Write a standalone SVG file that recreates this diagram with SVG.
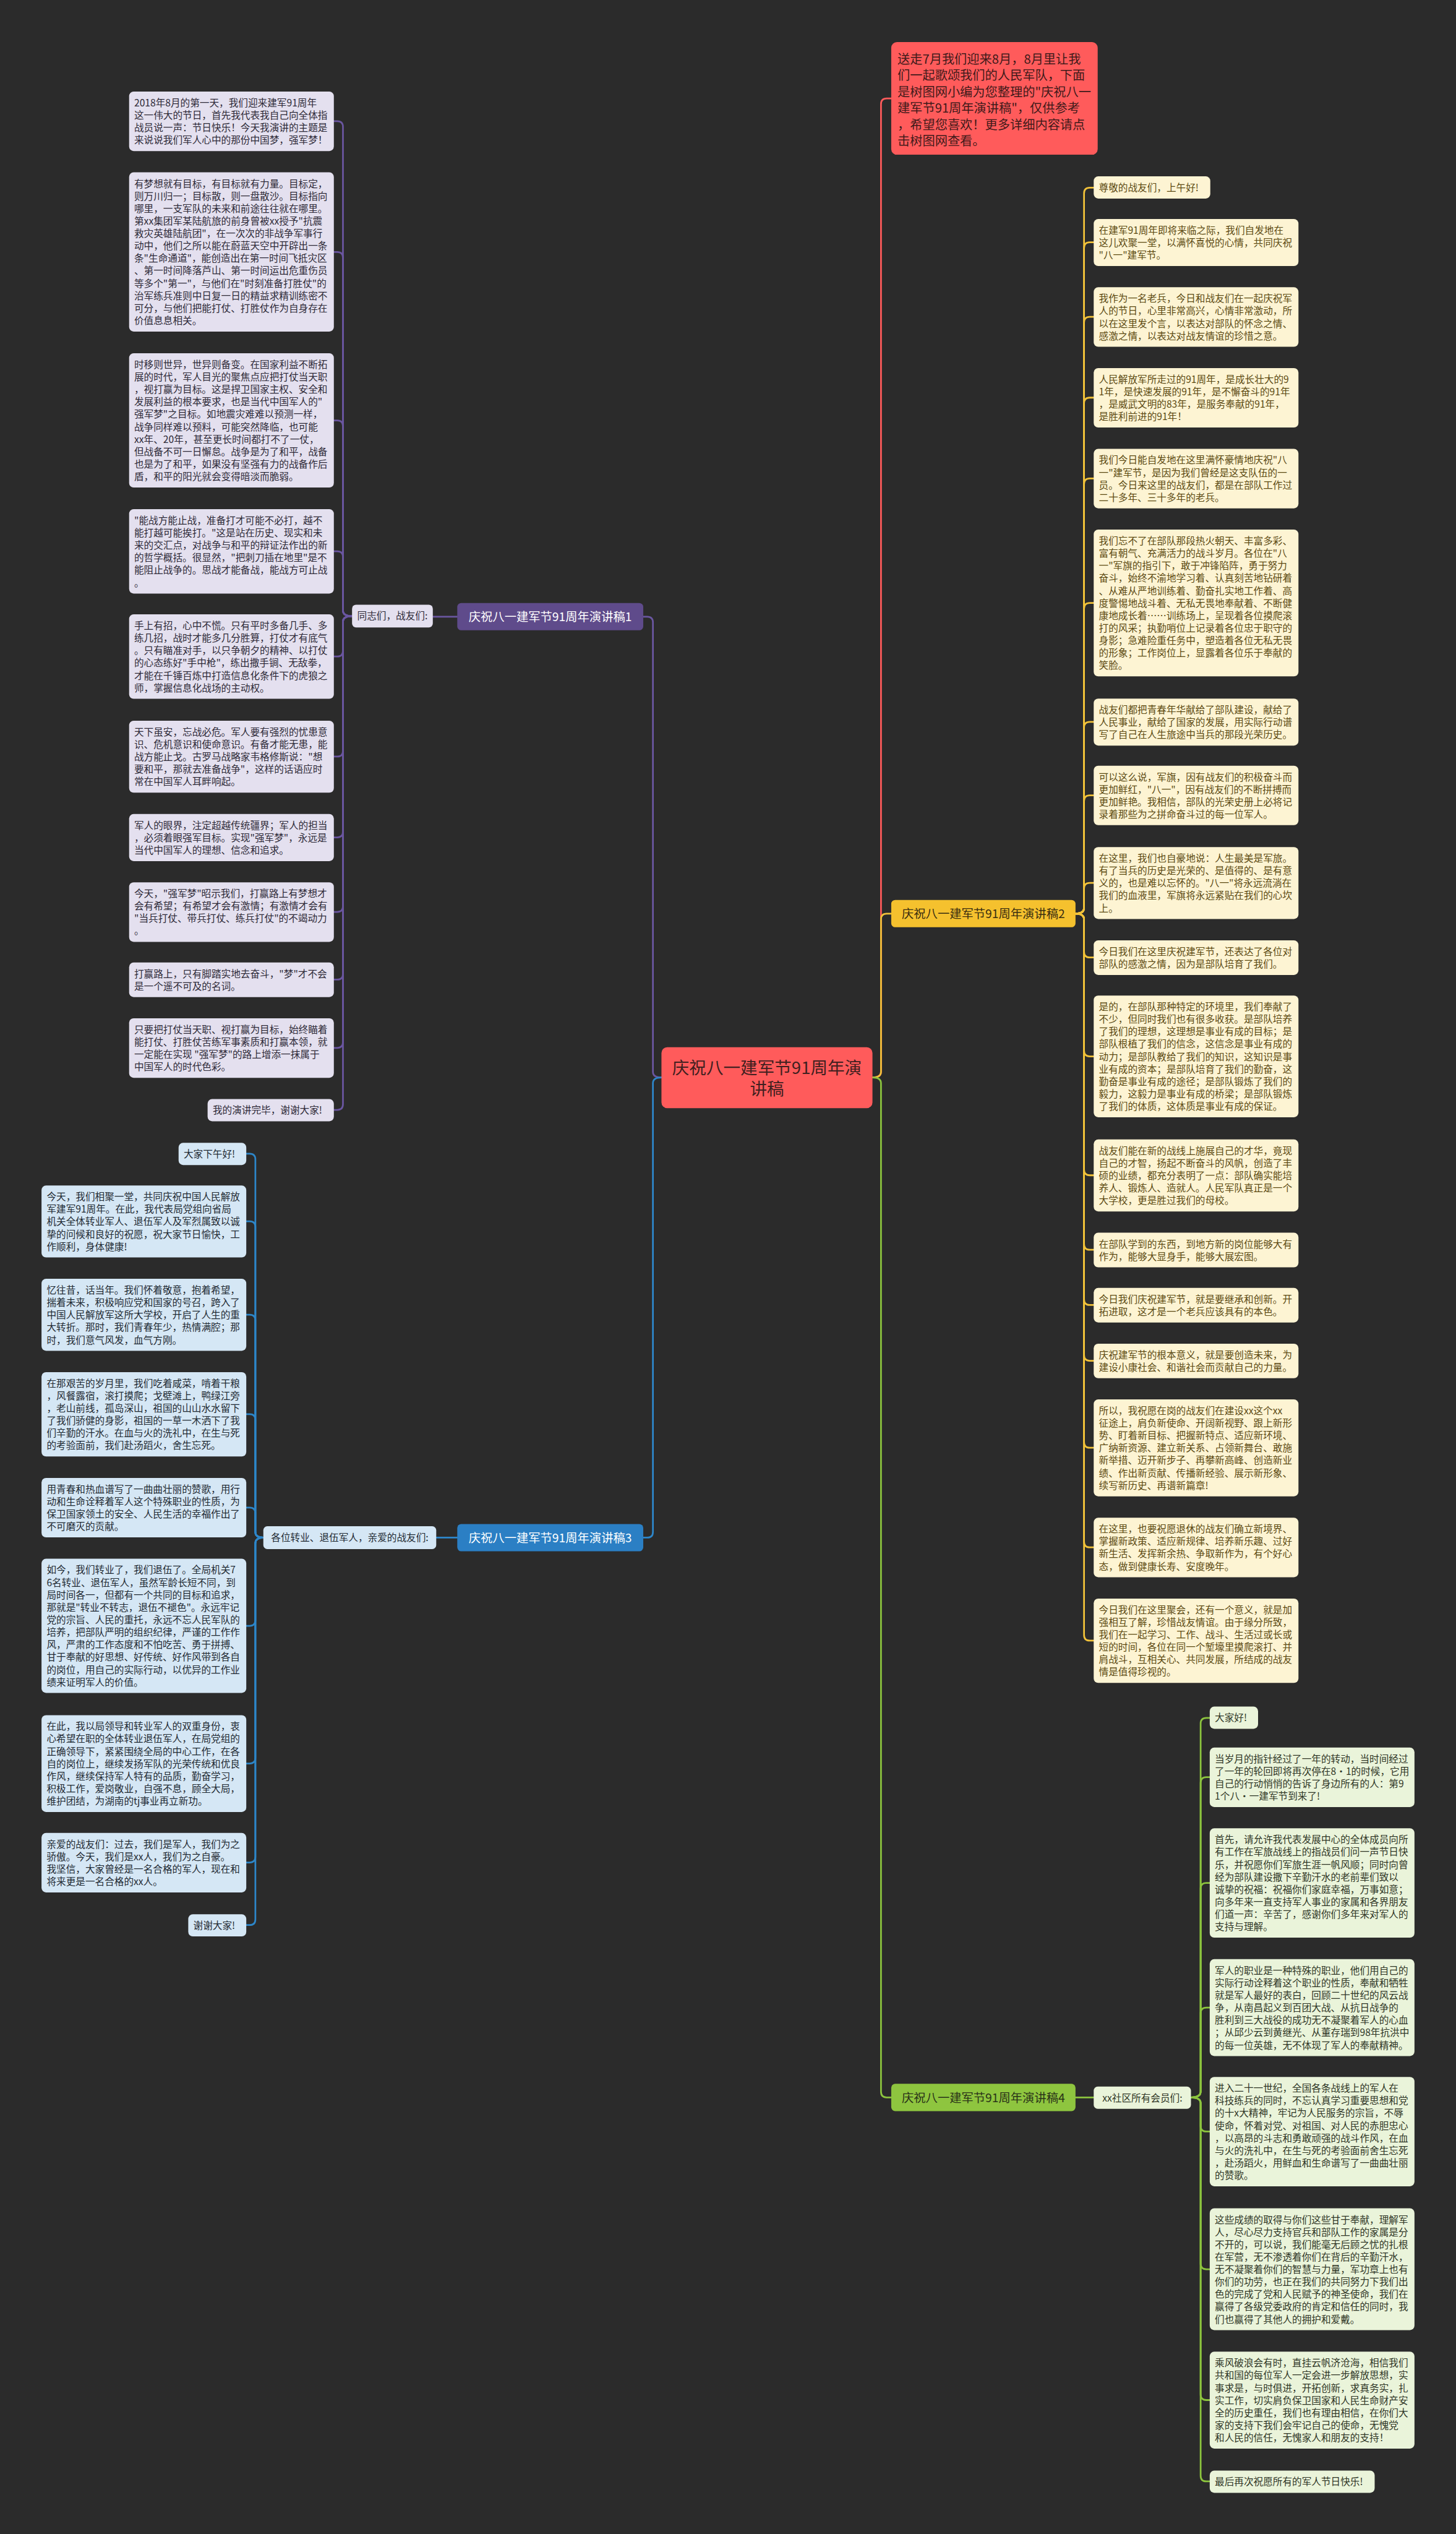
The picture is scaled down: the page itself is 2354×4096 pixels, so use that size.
<svg xmlns="http://www.w3.org/2000/svg" width="2354" height="4096" viewBox="0 0 2354 4096">
<defs>
<style>
.t{font-family:"Noto Sans CJK SC","Noto Sans CJK JP",sans-serif;font-size:17px}
.tp{fill:#2e2a38}.tb{fill:#1f2a33}.ty{fill:#5c4a12}.tg{fill:#2f3626}
.lp{fill:#e4e0ef}.lb{fill:#d5e7f5}.ly{fill:#fdf4d3}.lg{fill:#eaf4da}
.c{fill:none;stroke-width:3;stroke-linecap:round;stroke-linejoin:round}
.cp{stroke:#6a56a0}.cb{stroke:#2d86c9}.cy{stroke:#f2c23a}.cg{stroke:#8cc43e}.cr{stroke:#ff5b5b}
.lab{font-family:"Noto Sans CJK SC","Noto Sans CJK JP",sans-serif;font-size:21px;text-anchor:middle}
</style>
</defs>
<rect x="0" y="0" width="2354" height="4096" fill="#2b2b2b"/>
<g transform="scale(0.919531)">
<g id="connectors">
<path class="c cr" d="M1534 1894 Q1549 1894 1549 1884 V183 Q1549 173 1559 173 H1567"/>
<path class="c cy" d="M1534 1894 Q1549 1894 1549 1884 V1616 Q1549 1606 1559 1606 H1567"/>
<path class="c cg" d="M1534 1894 Q1549 1894 1549 1904 V3677 Q1549 3687 1559 3687 H1567"/>
<path class="c cp" d="M1163 1894 Q1148 1894 1148 1884 V1094 Q1148 1084 1138 1084 H1131"/>
<path class="c cb" d="M1163 1894 Q1148 1894 1148 1904 V2693 Q1148 2703 1138 2703 H1131"/>
<path class="c cp" d="M804 1084 H761"/>
<path class="c cb" d="M804 2703 H767"/>
<path class="c cg" d="M1891 3687 H1923"/>
<!-- branch 1 -->
<path class="c cp" d="M619 1083 Q603 1083 603 1073 V223 Q603 213 593 213 H587"/>
<path class="c cp" d="M619 1083 Q603 1083 603 1073 V453 Q603 443 593 443 H587"/>
<path class="c cp" d="M619 1083 Q603 1083 603 1073 V749 Q603 739 593 739 H587"/>
<path class="c cp" d="M619 1083 Q603 1083 603 1073 V979 Q603 969 593 969 H587"/>
<path class="c cp" d="M619 1083 Q603 1083 603 1093 V1144 Q603 1154 593 1154 H587"/>
<path class="c cp" d="M619 1083 Q603 1083 603 1093 V1320 Q603 1330 593 1330 H587"/>
<path class="c cp" d="M619 1083 Q603 1083 603 1093 V1462 Q603 1472 593 1472 H587"/>
<path class="c cp" d="M619 1083 Q603 1083 603 1093 V1593 Q603 1603 593 1603 H587"/>
<path class="c cp" d="M619 1083 Q603 1083 603 1093 V1712 Q603 1722 593 1722 H587"/>
<path class="c cp" d="M619 1083 Q603 1083 603 1093 V1832 Q603 1842 593 1842 H587"/>
<path class="c cp" d="M619 1083 Q603 1083 603 1093 V1941 Q603 1951 593 1951 H587"/>
<!-- branch 3 -->
<path class="c cb" d="M463 2703 Q449 2703 449 2693 V2038 Q449 2028 439 2028 H433"/>
<path class="c cb" d="M463 2703 Q449 2703 449 2693 V2157 Q449 2147 439 2147 H433"/>
<path class="c cb" d="M463 2703 Q449 2703 449 2693 V2321 Q449 2311 439 2311 H433"/>
<path class="c cb" d="M463 2703 Q449 2703 449 2693 V2496 Q449 2486 439 2486 H433"/>
<path class="c cb" d="M463 2703 Q449 2703 449 2693 V2660 Q449 2650 439 2650 H433"/>
<path class="c cb" d="M463 2703 Q449 2703 449 2713 V2848 Q449 2858 439 2858 H433"/>
<path class="c cb" d="M463 2703 Q449 2703 449 2713 V3090 Q449 3100 439 3100 H433"/>
<path class="c cb" d="M463 2703 Q449 2703 449 2713 V3264 Q449 3274 439 3274 H433"/>
<path class="c cb" d="M463 2703 Q449 2703 449 2713 V3374 Q449 3384 439 3384 H433"/>
<!-- branch 2 -->
<path class="c cy" d="M1891 1606 Q1906 1606 1906 1596 V340 Q1906 330 1916 330 H1923"/>
<path class="c cy" d="M1891 1606 Q1906 1606 1906 1596 V436 Q1906 426 1916 426 H1923"/>
<path class="c cy" d="M1891 1606 Q1906 1606 1906 1596 V567 Q1906 557 1916 557 H1923"/>
<path class="c cy" d="M1891 1606 Q1906 1606 1906 1596 V709 Q1906 699 1916 699 H1923"/>
<path class="c cy" d="M1891 1606 Q1906 1606 1906 1596 V851 Q1906 841 1916 841 H1923"/>
<path class="c cy" d="M1891 1606 Q1906 1606 1906 1596 V1070 Q1906 1060 1916 1060 H1923"/>
<path class="c cy" d="M1891 1606 Q1906 1606 1906 1596 V1279 Q1906 1269 1916 1269 H1923"/>
<path class="c cy" d="M1891 1606 Q1906 1606 1906 1596 V1408 Q1906 1398 1916 1398 H1923"/>
<path class="c cy" d="M1891 1606 Q1906 1606 1906 1596 V1562 Q1906 1552 1916 1552 H1923"/>
<path class="c cy" d="M1891 1606 Q1906 1606 1906 1616 V1673 Q1906 1683 1916 1683 H1923"/>
<path class="c cy" d="M1891 1606 Q1906 1606 1906 1616 V1847 Q1906 1857 1916 1857 H1923"/>
<path class="c cy" d="M1891 1606 Q1906 1606 1906 1616 V2056 Q1906 2066 1916 2066 H1923"/>
<path class="c cy" d="M1891 1606 Q1906 1606 1906 1616 V2187 Q1906 2197 1916 2197 H1923"/>
<path class="c cy" d="M1891 1606 Q1906 1606 1906 1616 V2284 Q1906 2294 1916 2294 H1923"/>
<path class="c cy" d="M1891 1606 Q1906 1606 1906 1616 V2382 Q1906 2392 1916 2392 H1923"/>
<path class="c cy" d="M1891 1606 Q1906 1606 1906 1616 V2535 Q1906 2545 1916 2545 H1923"/>
<path class="c cy" d="M1891 1606 Q1906 1606 1906 1616 V2710 Q1906 2720 1916 2720 H1923"/>
<path class="c cy" d="M1891 1606 Q1906 1606 1906 1616 V2874 Q1906 2884 1916 2884 H1923"/>
<!-- branch 4 -->
<path class="c cg" d="M2094 3687 Q2111 3687 2111 3677 V3030 Q2111 3020 2121 3020 H2127"/>
<path class="c cg" d="M2094 3687 Q2111 3687 2111 3677 V3134 Q2111 3124 2121 3124 H2127"/>
<path class="c cg" d="M2094 3687 Q2111 3687 2111 3677 V3320 Q2111 3310 2121 3310 H2127"/>
<path class="c cg" d="M2094 3687 Q2111 3687 2111 3677 V3539 Q2111 3529 2121 3529 H2127"/>
<path class="c cg" d="M2094 3687 Q2111 3687 2111 3697 V3737 Q2111 3747 2121 3747 H2127"/>
<path class="c cg" d="M2094 3687 Q2111 3687 2111 3697 V3979 Q2111 3989 2121 3989 H2127"/>
<path class="c cg" d="M2094 3687 Q2111 3687 2111 3697 V4209 Q2111 4219 2121 4219 H2127"/>
<path class="c cg" d="M2094 3687 Q2111 3687 2111 3697 V4352 Q2111 4362 2121 4362 H2127"/>
</g>

<g id="center">
<rect x="1163" y="1841" width="371" height="107" rx="10" fill="#ff5b5b"/>
<text class="lab" x="1348.5" y="1888" style="font-size:30px" fill="#3f2020"><tspan x="1348.5">庆祝八一建军节91周年演</tspan><tspan x="1348.5" dy="36.5">讲稿</tspan></text>
</g>

<g id="intro">
<rect x="1567" y="74" width="363" height="198" rx="10" fill="#ff5b5b"/>
<text class="t" style="font-size:22px" fill="#3f1a1a" x="1578" y="112"><tspan x="1578">送走7月我们迎来8月，8月里让我</tspan><tspan x="1578" dy="28.7">们一起歌颂我们的人民军队，下面</tspan><tspan x="1578" dy="28.7">是树图网小编为您整理的"庆祝八一</tspan><tspan x="1578" dy="28.7">建军节91周年演讲稿"，仅供参考</tspan><tspan x="1578" dy="28.7">，希望您喜欢！更多详细内容请点</tspan><tspan x="1578" dy="28.7">击树图网查看。</tspan></text>
</g>

<g id="branch1">
<rect x="804" y="1060" width="327" height="48" rx="7" fill="#5f4b8b"/>
<text class="lab" x="967.5" y="1092" fill="#ffffff">庆祝八一建军节91周年演讲稿1</text>
</g>
<g id="branch1-sub">
<rect x="619" y="1063" width="142" height="40" rx="7" class="lp"/>
<text class="t tp" x="690" y="1089" text-anchor="middle">同志们，战友们:</text>
</g>
<g id="b1-leaf1"><rect x="227" y="161" width="360" height="104.6" rx="8" class="lp"/>
<text class="t tp" x="236" y="187"><tspan x="236">2018年8月的第一天，我们迎来建军91周年</tspan><tspan x="236" dy="21.9">这一伟大的节日，首先我代表我自己向全体指</tspan><tspan x="236" dy="21.9">战员说一声：节日快乐！今天我演讲的主题是</tspan><tspan x="236" dy="21.9">来说说我们军人心中的那份中国梦，强军梦！</tspan></text></g>
<g id="b1-leaf2"><rect x="227" y="303" width="360" height="279.8" rx="8" class="lp"/>
<text class="t tp" x="236" y="329"><tspan x="236">有梦想就有目标，有目标就有力量。目标定，</tspan><tspan x="236" dy="21.9">则万川归一；目标散，则一盘散沙。目标指向</tspan><tspan x="236" dy="21.9">哪里，一支军队的未来和前途往往就在哪里。</tspan><tspan x="236" dy="21.9">第xx集团军某陆航旅的前身曾被xx授予"抗震</tspan><tspan x="236" dy="21.9">救灾英雄陆航团"，在一次次的非战争军事行</tspan><tspan x="236" dy="21.9">动中，他们之所以能在蔚蓝天空中开辟出一条</tspan><tspan x="236" dy="21.9">条"生命通道"，能创造出在第一时间飞抵灾区</tspan><tspan x="236" dy="21.9">、第一时间降落芦山、第一时间运出危重伤员</tspan><tspan x="236" dy="21.9">等多个"第一"，与他们在"时刻准备打胜仗"的</tspan><tspan x="236" dy="21.9">治军练兵准则中日复一日的精益求精训练密不</tspan><tspan x="236" dy="21.9">可分，与他们把能打仗、打胜仗作为自身存在</tspan><tspan x="236" dy="21.9">价值息息相关。</tspan></text></g>
<g id="b1-leaf3"><rect x="227" y="621" width="360" height="236" rx="8" class="lp"/>
<text class="t tp" x="236" y="647"><tspan x="236">时移则世异，世异则备变。在国家利益不断拓</tspan><tspan x="236" dy="21.9">展的时代，军人目光的聚焦点应把打仗当天职</tspan><tspan x="236" dy="21.9">，视打赢为目标。这是捍卫国家主权、安全和</tspan><tspan x="236" dy="21.9">发展利益的根本要求，也是当代中国军人的"</tspan><tspan x="236" dy="21.9">强军梦"之目标。如地震灾难难以预测一样，</tspan><tspan x="236" dy="21.9">战争同样难以预料，可能突然降临，也可能</tspan><tspan x="236" dy="21.9">xx年、20年，甚至更长时间都打不了一仗，</tspan><tspan x="236" dy="21.9">但战备不可一日懈怠。战争是为了和平，战备</tspan><tspan x="236" dy="21.9">也是为了和平，如果没有坚强有力的战备作后</tspan><tspan x="236" dy="21.9">盾，和平的阳光就会变得暗淡而脆弱。</tspan></text></g>
<g id="b1-leaf4"><rect x="227" y="895" width="360" height="148.4" rx="8" class="lp"/>
<text class="t tp" x="236" y="921"><tspan x="236">"能战方能止战，准备打才可能不必打，越不</tspan><tspan x="236" dy="21.9">能打越可能挨打。"这是站在历史、现实和未</tspan><tspan x="236" dy="21.9">来的交汇点，对战争与和平的辩证法作出的新</tspan><tspan x="236" dy="21.9">的哲学概括。很显然，"把刺刀插在地里"是不</tspan><tspan x="236" dy="21.9">能阻止战争的。思战才能备战，能战方可止战</tspan><tspan x="236" dy="21.9">。</tspan></text></g>
<g id="b1-leaf5"><rect x="227" y="1080" width="360" height="148.4" rx="8" class="lp"/>
<text class="t tp" x="236" y="1106"><tspan x="236">手上有招，心中不慌。只有平时多备几手、多</tspan><tspan x="236" dy="21.9">练几招，战时才能多几分胜算，打仗才有底气</tspan><tspan x="236" dy="21.9">。只有瞄准对手，以只争朝夕的精神、以打仗</tspan><tspan x="236" dy="21.9">的心态练好"手中枪"，练出撒手锏、无敌拳，</tspan><tspan x="236" dy="21.9">才能在千锤百炼中打造信息化条件下的虎狼之</tspan><tspan x="236" dy="21.9">师，掌握信息化战场的主动权。</tspan></text></g>
<g id="b1-leaf6"><rect x="227" y="1267" width="360" height="126.5" rx="8" class="lp"/>
<text class="t tp" x="236" y="1293"><tspan x="236">天下虽安，忘战必危。军人要有强烈的忧患意</tspan><tspan x="236" dy="21.9">识、危机意识和使命意识。有备才能无患，能</tspan><tspan x="236" dy="21.9">战方能止戈。古罗马战略家韦格修斯说："想</tspan><tspan x="236" dy="21.9">要和平，那就去准备战争"，这样的话语应时</tspan><tspan x="236" dy="21.9">常在中国军人耳畔响起。</tspan></text></g>
<g id="b1-leaf7"><rect x="227" y="1431" width="360" height="82.7" rx="8" class="lp"/>
<text class="t tp" x="236" y="1457"><tspan x="236">军人的眼界，注定超越传统疆界；军人的担当</tspan><tspan x="236" dy="21.9">，必须着眼强军目标。实现"强军梦"，永远是</tspan><tspan x="236" dy="21.9">当代中国军人的理想、信念和追求。</tspan></text></g>
<g id="b1-leaf8"><rect x="227" y="1551" width="360" height="104.6" rx="8" class="lp"/>
<text class="t tp" x="236" y="1577"><tspan x="236">今天，"强军梦"昭示我们，打赢路上有梦想才</tspan><tspan x="236" dy="21.9">会有希望；有希望才会有激情；有激情才会有</tspan><tspan x="236" dy="21.9">"当兵打仗、带兵打仗、练兵打仗"的不竭动力</tspan><tspan x="236" dy="21.9">。</tspan></text></g>
<g id="b1-leaf9"><rect x="227" y="1692" width="360" height="60.8" rx="8" class="lp"/>
<text class="t tp" x="236" y="1718"><tspan x="236">打赢路上，只有脚踏实地去奋斗，"梦"才不会</tspan><tspan x="236" dy="21.9">是一个遥不可及的名词。</tspan></text></g>
<g id="b1-leaf10"><rect x="227" y="1790" width="360" height="104.6" rx="8" class="lp"/>
<text class="t tp" x="236" y="1816"><tspan x="236">只要把打仗当天职、视打赢为目标，始终瞄着</tspan><tspan x="236" dy="21.9">能打仗、打胜仗苦练军事素质和打赢本领，就</tspan><tspan x="236" dy="21.9">一定能在实现 "强军梦"的路上增添一抹属于</tspan><tspan x="236" dy="21.9">中国军人的时代色彩。</tspan></text></g>
<g id="b1-leaf11"><rect x="365" y="1932" width="222" height="39" rx="8" class="lp"/>
<text class="t tp" x="374" y="1958">我的演讲完毕，谢谢大家!</text></g>

<g id="branch3">
<rect x="804" y="2679" width="327" height="48" rx="7" fill="#2b7fc4"/>
<text class="lab" x="967.5" y="2711" fill="#ffffff">庆祝八一建军节91周年演讲稿3</text>
</g>
<g id="branch3-sub">
<rect x="463" y="2683" width="304" height="40" rx="7" class="lb"/>
<text class="t tb" x="615" y="2709" text-anchor="middle">各位转业、退伍军人，亲爱的战友们:</text>
</g>
<g id="b3-leaf1"><rect x="314" y="2009" width="119" height="39" rx="8" class="lb"/>
<text class="t tb" x="323" y="2035">大家下午好!</text></g>
<g id="b3-leaf2"><rect x="73" y="2084" width="360" height="126.5" rx="8" class="lb"/>
<text class="t tb" x="82" y="2110"><tspan x="82">今天，我们相聚一堂，共同庆祝中国人民解放</tspan><tspan x="82" dy="21.9">军建军91周年。在此，我代表局党组向省局</tspan><tspan x="82" dy="21.9">机关全体转业军人、退伍军人及军烈属致以诚</tspan><tspan x="82" dy="21.9">挚的问候和良好的祝愿，祝大家节日愉快，工</tspan><tspan x="82" dy="21.9">作顺利，身体健康!</tspan></text></g>
<g id="b3-leaf3"><rect x="73" y="2248" width="360" height="126.5" rx="8" class="lb"/>
<text class="t tb" x="82" y="2274"><tspan x="82">忆往昔，话当年。我们怀着敬意，抱着希望，</tspan><tspan x="82" dy="21.9">揣着未来，积极响应党和国家的号召，跨入了</tspan><tspan x="82" dy="21.9">中国人民解放军这所大学校，开启了人生的重</tspan><tspan x="82" dy="21.9">大转折。那时，我们青春年少，热情满腔；那</tspan><tspan x="82" dy="21.9">时，我们意气风发，血气方刚。</tspan></text></g>
<g id="b3-leaf4"><rect x="73" y="2412" width="360" height="148.4" rx="8" class="lb"/>
<text class="t tb" x="82" y="2438"><tspan x="82">在那艰苦的岁月里，我们吃着咸菜，啃着干粮</tspan><tspan x="82" dy="21.9">，风餐露宿，滚打摸爬；戈壁滩上，鸭绿江旁</tspan><tspan x="82" dy="21.9">，老山前线，孤岛深山，祖国的山山水水留下</tspan><tspan x="82" dy="21.9">了我们骄健的身影，祖国的一草一木洒下了我</tspan><tspan x="82" dy="21.9">们辛勤的汗水。在血与火的洗礼中，在生与死</tspan><tspan x="82" dy="21.9">的考验面前，我们赴汤蹈火，舍生忘死。</tspan></text></g>
<g id="b3-leaf5"><rect x="73" y="2598" width="360" height="104.6" rx="8" class="lb"/>
<text class="t tb" x="82" y="2624"><tspan x="82">用青春和热血谱写了一曲曲壮丽的赞歌，用行</tspan><tspan x="82" dy="21.9">动和生命诠释着军人这个特殊职业的性质，为</tspan><tspan x="82" dy="21.9">保卫国家领土的安全、人民生活的幸福作出了</tspan><tspan x="82" dy="21.9">不可磨灭的贡献。</tspan></text></g>
<g id="b3-leaf6"><rect x="73" y="2740" width="360" height="236" rx="8" class="lb"/>
<text class="t tb" x="82" y="2766"><tspan x="82">如今，我们转业了，我们退伍了。全局机关7</tspan><tspan x="82" dy="21.9">6名转业、退伍军人，虽然军龄长短不同，到</tspan><tspan x="82" dy="21.9">局时间各一，但都有一个共同的目标和追求，</tspan><tspan x="82" dy="21.9">那就是"转业不转志，退伍不褪色"。永远牢记</tspan><tspan x="82" dy="21.9">党的宗旨、人民的重托，永远不忘人民军队的</tspan><tspan x="82" dy="21.9">培养，把部队严明的组织纪律，严谨的工作作</tspan><tspan x="82" dy="21.9">风，严肃的工作态度和不怕吃苦、勇于拼搏、</tspan><tspan x="82" dy="21.9">甘于奉献的好思想、好传统、好作风带到各自</tspan><tspan x="82" dy="21.9">的岗位，用自己的实际行动，以优异的工作业</tspan><tspan x="82" dy="21.9">绩来证明军人的价值。</tspan></text></g>
<g id="b3-leaf7"><rect x="73" y="3015" width="360" height="170.3" rx="8" class="lb"/>
<text class="t tb" x="82" y="3041"><tspan x="82">在此，我以局领导和转业军人的双重身份，衷</tspan><tspan x="82" dy="21.9">心希望在职的全体转业退伍军人，在局党组的</tspan><tspan x="82" dy="21.9">正确领导下，紧紧围绕全局的中心工作，在各</tspan><tspan x="82" dy="21.9">自的岗位上，继续发扬军队的光荣传统和优良</tspan><tspan x="82" dy="21.9">作风，继续保持军人特有的品质，勤奋学习，</tspan><tspan x="82" dy="21.9">积极工作，爱岗敬业，自强不息，顾全大局，</tspan><tspan x="82" dy="21.9">维护团结，为湖南的tj事业再立新功。</tspan></text></g>
<g id="b3-leaf8"><rect x="73" y="3222" width="360" height="104.6" rx="8" class="lb"/>
<text class="t tb" x="82" y="3248"><tspan x="82">亲爱的战友们：过去，我们是军人，我们为之</tspan><tspan x="82" dy="21.9">骄傲。今天，我们是xx人，我们为之自豪。</tspan><tspan x="82" dy="21.9">我坚信，大家曾经是一名合格的军人，现在和</tspan><tspan x="82" dy="21.9">将来更是一名合格的xx人。</tspan></text></g>
<g id="b3-leaf9"><rect x="331" y="3365" width="102" height="39" rx="8" class="lb"/>
<text class="t tb" x="340" y="3391">谢谢大家!</text></g>

<g id="branch2">
<rect x="1567" y="1582" width="324" height="48" rx="7" fill="#f5c12e"/>
<text class="lab" x="1729" y="1614" fill="#3a2e10">庆祝八一建军节91周年演讲稿2</text>
</g>
<g id="b2-leaf1"><rect x="1923" y="310" width="205" height="39" rx="8" class="ly"/>
<text class="t ty" x="1932" y="336">尊敬的战友们，上午好!</text></g>
<g id="b2-leaf2"><rect x="1923" y="385" width="360" height="82.7" rx="8" class="ly"/>
<text class="t ty" x="1932" y="411"><tspan x="1932">在建军91周年即将来临之际，我们自发地在</tspan><tspan x="1932" dy="21.9">这儿欢聚一堂，以满怀喜悦的心情，共同庆祝</tspan><tspan x="1932" dy="21.9">"八一"建军节。</tspan></text></g>
<g id="b2-leaf3"><rect x="1923" y="505" width="360" height="104.6" rx="8" class="ly"/>
<text class="t ty" x="1932" y="531"><tspan x="1932">我作为一名老兵，今日和战友们在一起庆祝军</tspan><tspan x="1932" dy="21.9">人的节日，心里非常高兴，心情非常激动，所</tspan><tspan x="1932" dy="21.9">以在这里发个言，以表达对部队的怀念之情、</tspan><tspan x="1932" dy="21.9">感激之情，以表达对战友情谊的珍惜之意。</tspan></text></g>
<g id="b2-leaf4"><rect x="1923" y="647" width="360" height="104.6" rx="8" class="ly"/>
<text class="t ty" x="1932" y="673"><tspan x="1932">人民解放军所走过的91周年，是成长壮大的9</tspan><tspan x="1932" dy="21.9">1年，是快速发展的91年，是不懈奋斗的91年</tspan><tspan x="1932" dy="21.9">，是威武文明的83年，是服务奉献的91年，</tspan><tspan x="1932" dy="21.9">是胜利前进的91年！</tspan></text></g>
<g id="b2-leaf5"><rect x="1923" y="789" width="360" height="104.6" rx="8" class="ly"/>
<text class="t ty" x="1932" y="815"><tspan x="1932">我们今日能自发地在这里满怀豪情地庆祝"八</tspan><tspan x="1932" dy="21.9">一"建军节，是因为我们曾经是这支队伍的一</tspan><tspan x="1932" dy="21.9">员。今日来这里的战友们，都是在部队工作过</tspan><tspan x="1932" dy="21.9">二十多年、三十多年的老兵。</tspan></text></g>
<g id="b2-leaf6"><rect x="1923" y="931" width="360" height="258" rx="8" class="ly"/>
<text class="t ty" x="1932" y="957"><tspan x="1932">我们忘不了在部队那段热火朝天、丰富多彩、</tspan><tspan x="1932" dy="21.9">富有朝气、充满活力的战斗岁月。各位在"八</tspan><tspan x="1932" dy="21.9">一"军旗的指引下，敢于冲锋陷阵，勇于努力</tspan><tspan x="1932" dy="21.9">奋斗，始终不渝地学习着、认真刻苦地钻研着</tspan><tspan x="1932" dy="21.9">、从难从严地训练着、勤奋扎实地工作着、高</tspan><tspan x="1932" dy="21.9">度警惕地战斗着、无私无畏地奉献着、不断健</tspan><tspan x="1932" dy="21.9">康地成长着……训练场上，呈现着各位摸爬滚</tspan><tspan x="1932" dy="21.9">打的风采；执勤哨位上记录着各位忠于职守的</tspan><tspan x="1932" dy="21.9">身影；急难险重任务中，塑造着各位无私无畏</tspan><tspan x="1932" dy="21.9">的形象；工作岗位上，显露着各位乐于奉献的</tspan><tspan x="1932" dy="21.9">笑脸。</tspan></text></g>
<g id="b2-leaf7"><rect x="1923" y="1228" width="360" height="82.7" rx="8" class="ly"/>
<text class="t ty" x="1932" y="1254"><tspan x="1932">战友们都把青春年华献给了部队建设，献给了</tspan><tspan x="1932" dy="21.9">人民事业，献给了国家的发展，用实际行动谱</tspan><tspan x="1932" dy="21.9">写了自己在人生旅途中当兵的那段光荣历史。</tspan></text></g>
<g id="b2-leaf8"><rect x="1923" y="1346" width="360" height="104.6" rx="8" class="ly"/>
<text class="t ty" x="1932" y="1372"><tspan x="1932">可以这么说，军旗，因有战友们的积极奋斗而</tspan><tspan x="1932" dy="21.9">更加鲜红，"八一"，因有战友们的不断拼搏而</tspan><tspan x="1932" dy="21.9">更加鲜艳。我相信，部队的光荣史册上必将记</tspan><tspan x="1932" dy="21.9">录着那些为之拼命奋斗过的每一位军人。</tspan></text></g>
<g id="b2-leaf9"><rect x="1923" y="1489" width="360" height="126.5" rx="8" class="ly"/>
<text class="t ty" x="1932" y="1515"><tspan x="1932">在这里，我们也自豪地说：人生最美是军旅。</tspan><tspan x="1932" dy="21.9">有了当兵的历史是光荣的、是值得的、是有意</tspan><tspan x="1932" dy="21.9">义的，也是难以忘怀的。"八一"将永远流淌在</tspan><tspan x="1932" dy="21.9">我们的血液里，军旗将永远紧贴在我们的心坎</tspan><tspan x="1932" dy="21.9">上。</tspan></text></g>
<g id="b2-leaf10"><rect x="1923" y="1653" width="360" height="60.8" rx="8" class="ly"/>
<text class="t ty" x="1932" y="1679"><tspan x="1932">今日我们在这里庆祝建军节，还表达了各位对</tspan><tspan x="1932" dy="21.9">部队的感激之情，因为是部队培育了我们。</tspan></text></g>
<g id="b2-leaf11"><rect x="1923" y="1750" width="360" height="214" rx="8" class="ly"/>
<text class="t ty" x="1932" y="1776"><tspan x="1932">是的，在部队那种特定的环境里，我们奉献了</tspan><tspan x="1932" dy="21.9">不少，但同时我们也有很多收获。是部队培养</tspan><tspan x="1932" dy="21.9">了我们的理想，这理想是事业有成的目标；是</tspan><tspan x="1932" dy="21.9">部队根植了我们的信念，这信念是事业有成的</tspan><tspan x="1932" dy="21.9">动力；是部队教给了我们的知识，这知识是事</tspan><tspan x="1932" dy="21.9">业有成的资本；是部队培育了我们的勤奋，这</tspan><tspan x="1932" dy="21.9">勤奋是事业有成的途径；是部队锻炼了我们的</tspan><tspan x="1932" dy="21.9">毅力，这毅力是事业有成的桥梁；是部队锻炼</tspan><tspan x="1932" dy="21.9">了我们的体质，这体质是事业有成的保证。</tspan></text></g>
<g id="b2-leaf12"><rect x="1923" y="2003" width="360" height="126.5" rx="8" class="ly"/>
<text class="t ty" x="1932" y="2029"><tspan x="1932">战友们能在新的战线上施展自己的才华，竟现</tspan><tspan x="1932" dy="21.9">自己的才智，扬起不断奋斗的风帆，创造了丰</tspan><tspan x="1932" dy="21.9">硕的业绩，都充分表明了一点：部队确实能培</tspan><tspan x="1932" dy="21.9">养人、锻炼人、造就人。人民军队真正是一个</tspan><tspan x="1932" dy="21.9">大学校，更是胜过我们的母校。</tspan></text></g>
<g id="b2-leaf13"><rect x="1923" y="2167" width="360" height="60.8" rx="8" class="ly"/>
<text class="t ty" x="1932" y="2193"><tspan x="1932">在部队学到的东西，到地方新的岗位能够大有</tspan><tspan x="1932" dy="21.9">作为，能够大显身手，能够大展宏图。</tspan></text></g>
<g id="b2-leaf14"><rect x="1923" y="2264" width="360" height="60.8" rx="8" class="ly"/>
<text class="t ty" x="1932" y="2290"><tspan x="1932">今日我们庆祝建军节，就是要继承和创新。开</tspan><tspan x="1932" dy="21.9">拓进取，这才是一个老兵应该具有的本色。</tspan></text></g>
<g id="b2-leaf15"><rect x="1923" y="2362" width="360" height="60.8" rx="8" class="ly"/>
<text class="t ty" x="1932" y="2388"><tspan x="1932">庆祝建军节的根本意义，就是要创造未来，为</tspan><tspan x="1932" dy="21.9">建设小康社会、和谐社会而贡献自己的力量。</tspan></text></g>
<g id="b2-leaf16"><rect x="1923" y="2460" width="360" height="170.3" rx="8" class="ly"/>
<text class="t ty" x="1932" y="2486"><tspan x="1932">所以，我祝愿在岗的战友们在建设xx这个xx</tspan><tspan x="1932" dy="21.9">征途上，肩负新使命、开阔新视野、跟上新形</tspan><tspan x="1932" dy="21.9">势、盯着新目标、把握新特点、适应新环境、</tspan><tspan x="1932" dy="21.9">广纳新资源、建立新关系、占领新舞台、敢施</tspan><tspan x="1932" dy="21.9">新举措、迈开新步子、再攀新高峰、创造新业</tspan><tspan x="1932" dy="21.9">绩、作出新贡献、传播新经验、展示新形象、</tspan><tspan x="1932" dy="21.9">续写新历史、再谱新篇章!</tspan></text></g>
<g id="b2-leaf17"><rect x="1923" y="2668" width="360" height="104.6" rx="8" class="ly"/>
<text class="t ty" x="1932" y="2694"><tspan x="1932">在这里，也要祝愿退休的战友们确立新境界、</tspan><tspan x="1932" dy="21.9">掌握新政策、适应新规律、培养新乐趣、过好</tspan><tspan x="1932" dy="21.9">新生活、发挥新余热、争取新作为，有个好心</tspan><tspan x="1932" dy="21.9">态，做到健康长寿、安度晚年。</tspan></text></g>
<g id="b2-leaf18"><rect x="1923" y="2810" width="360" height="148.4" rx="8" class="ly"/>
<text class="t ty" x="1932" y="2836"><tspan x="1932">今日我们在这里聚会，还有一个意义，就是加</tspan><tspan x="1932" dy="21.9">强相互了解，珍惜战友情谊。由于缘分所致，</tspan><tspan x="1932" dy="21.9">我们在一起学习、工作、战斗、生活过或长或</tspan><tspan x="1932" dy="21.9">短的时间，各位在同一个堑壕里摸爬滚打、并</tspan><tspan x="1932" dy="21.9">肩战斗，互相关心、共同发展，所结成的战友</tspan><tspan x="1932" dy="21.9">情是值得珍视的。</tspan></text></g>

<g id="branch4">
<rect x="1567" y="3663" width="324" height="48" rx="7" fill="#8ec53f"/>
<text class="lab" x="1729" y="3695" fill="#2a3318">庆祝八一建军节91周年演讲稿4</text>
</g>
<g id="branch4-sub">
<rect x="1923" y="3668" width="171" height="39" rx="7" class="lg"/>
<text class="t tg" x="2008.5" y="3694" text-anchor="middle">xx社区所有会员们:</text>
</g>
<g id="b4-leaf1"><rect x="2127" y="3000" width="85" height="39" rx="8" class="lg"/>
<text class="t tg" x="2136" y="3026">大家好!</text></g>
<g id="b4-leaf2"><rect x="2127" y="3072" width="360" height="104.6" rx="8" class="lg"/>
<text class="t tg" x="2136" y="3098"><tspan x="2136">当岁月的指针经过了一年的转动，当时间经过</tspan><tspan x="2136" dy="21.9">了一年的轮回即将再次停在8·1的时候，它用</tspan><tspan x="2136" dy="21.9">自己的行动悄悄的告诉了身边所有的人：第9</tspan><tspan x="2136" dy="21.9">1个八·一建军节到来了!</tspan></text></g>
<g id="b4-leaf3"><rect x="2127" y="3214" width="360" height="192.2" rx="8" class="lg"/>
<text class="t tg" x="2136" y="3240"><tspan x="2136">首先，请允许我代表发展中心的全体成员向所</tspan><tspan x="2136" dy="21.9">有工作在军旅战线上的指战员们问一声节日快</tspan><tspan x="2136" dy="21.9">乐，并祝愿你们军旅生涯一帆风顺；同时向曾</tspan><tspan x="2136" dy="21.9">经为部队建设撒下辛勤汗水的老前辈们致以</tspan><tspan x="2136" dy="21.9">诚挚的祝福：祝福你们家庭幸福，万事如意；</tspan><tspan x="2136" dy="21.9">向多年来一直支持军人事业的家属和各界朋友</tspan><tspan x="2136" dy="21.9">们道一声：辛苦了，感谢你们多年来对军人的</tspan><tspan x="2136" dy="21.9">支持与理解。</tspan></text></g>
<g id="b4-leaf4"><rect x="2127" y="3444" width="360" height="170.3" rx="8" class="lg"/>
<text class="t tg" x="2136" y="3470"><tspan x="2136">军人的职业是一种特殊的职业，他们用自己的</tspan><tspan x="2136" dy="21.9">实际行动诠释着这个职业的性质，奉献和牺牲</tspan><tspan x="2136" dy="21.9">就是军人最好的表白，回顾二十世纪的风云战</tspan><tspan x="2136" dy="21.9">争，从南昌起义到百团大战、从抗日战争的</tspan><tspan x="2136" dy="21.9">胜利到三大战役的成功无不凝聚着军人的心血</tspan><tspan x="2136" dy="21.9">；从邱少云到黄继光、从董存瑞到98年抗洪中</tspan><tspan x="2136" dy="21.9">的每一位英雄，无不体现了军人的奉献精神。</tspan></text></g>
<g id="b4-leaf5"><rect x="2127" y="3651" width="360" height="192.2" rx="8" class="lg"/>
<text class="t tg" x="2136" y="3677"><tspan x="2136">进入二十一世纪，全国各条战线上的军人在</tspan><tspan x="2136" dy="21.9">科技练兵的同时，不忘认真学习重要思想和党</tspan><tspan x="2136" dy="21.9">的十x大精神，牢记为人民服务的宗旨，不辱</tspan><tspan x="2136" dy="21.9">使命，怀着对党、对祖国、对人民的赤胆忠心</tspan><tspan x="2136" dy="21.9">，以高昂的斗志和勇敢顽强的战斗作风，在血</tspan><tspan x="2136" dy="21.9">与火的洗礼中，在生与死的考验面前舍生忘死</tspan><tspan x="2136" dy="21.9">，赴汤蹈火，用鲜血和生命谱写了一曲曲壮丽</tspan><tspan x="2136" dy="21.9">的赞歌。</tspan></text></g>
<g id="b4-leaf6"><rect x="2127" y="3882" width="360" height="214" rx="8" class="lg"/>
<text class="t tg" x="2136" y="3908"><tspan x="2136">这些成绩的取得与你们这些甘于奉献，理解军</tspan><tspan x="2136" dy="21.9">人，尽心尽力支持官兵和部队工作的家属是分</tspan><tspan x="2136" dy="21.9">不开的，可以说，我们能毫无后顾之忧的扎根</tspan><tspan x="2136" dy="21.9">在军营，无不渗透着你们在背后的辛勤汗水，</tspan><tspan x="2136" dy="21.9">无不凝聚着你们的智慧与力量，军功章上也有</tspan><tspan x="2136" dy="21.9">你们的功劳，也正在我们的共同努力下我们出</tspan><tspan x="2136" dy="21.9">色的完成了党和人民赋予的神圣使命，我们在</tspan><tspan x="2136" dy="21.9">赢得了各级党委政府的肯定和信任的同时，我</tspan><tspan x="2136" dy="21.9">们也赢得了其他人的拥护和爱戴。</tspan></text></g>
<g id="b4-leaf7"><rect x="2127" y="4134" width="360" height="170.3" rx="8" class="lg"/>
<text class="t tg" x="2136" y="4160"><tspan x="2136">乘风破浪会有时，直挂云帆济沧海，相信我们</tspan><tspan x="2136" dy="21.9">共和国的每位军人一定会进一步解放思想，实</tspan><tspan x="2136" dy="21.9">事求是，与时俱进，开拓创新，求真务实，扎</tspan><tspan x="2136" dy="21.9">实工作，切实肩负保卫国家和人民生命财产安</tspan><tspan x="2136" dy="21.9">全的历史重任，我们也有理由相信，在你们大</tspan><tspan x="2136" dy="21.9">家的支持下我们会牢记自己的使命，无愧党</tspan><tspan x="2136" dy="21.9">和人民的信任，无愧家人和朋友的支持！</tspan></text></g>
<g id="b4-leaf8"><rect x="2127" y="4343" width="290" height="39" rx="8" class="lg"/>
<text class="t tg" x="2136" y="4369">最后再次祝愿所有的军人节日快乐!</text></g>
</g>
</svg>
